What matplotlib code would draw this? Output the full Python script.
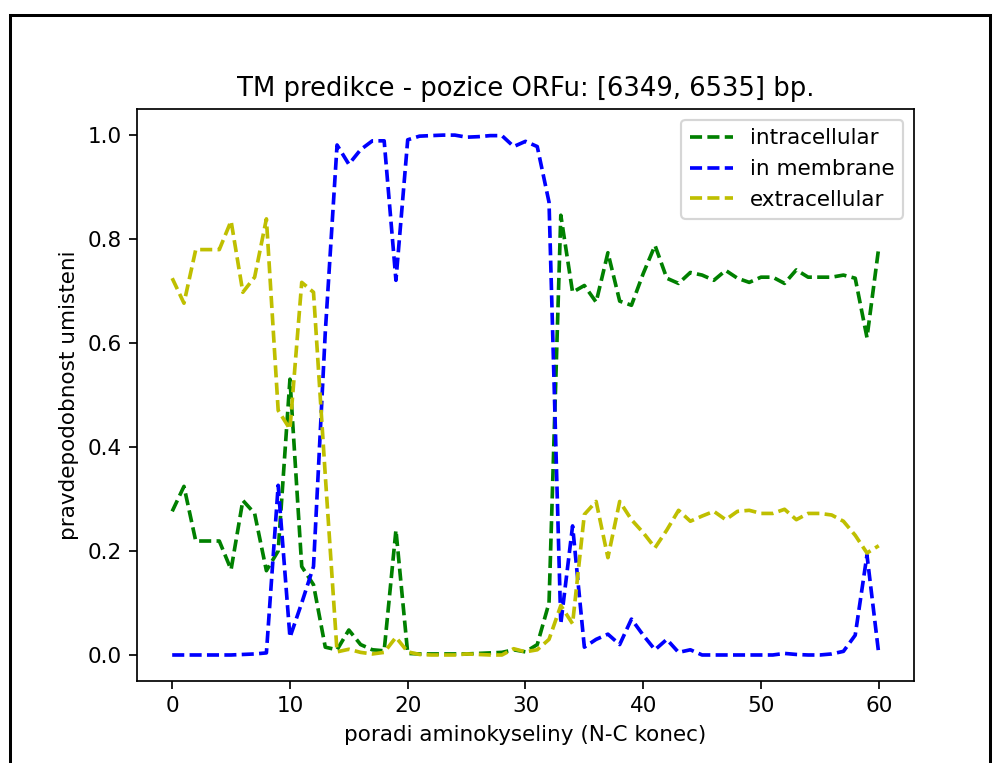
import matplotlib
matplotlib.use("Agg")
import matplotlib.pyplot as plt
from matplotlib.lines import Line2D

# --- DATA ---
positions = list(range(61))

intracellular = [0.276, 0.324, 0.219, 0.219, 0.219, 0.164, 0.297, 0.272, 0.162, 0.20,
                 0.53, 0.17, 0.135, 0.015, 0.01, 0.048, 0.02, 0.01, 0.008, 0.24,
                 0.003, 0.002, 0.002, 0.002, 0.002, 0.002, 0.003, 0.004, 0.005, 0.01,
                 0.006, 0.02, 0.10, 0.845, 0.697, 0.71, 0.678, 0.773, 0.68, 0.672,
                 0.733, 0.787, 0.724, 0.714, 0.735, 0.73, 0.72, 0.739, 0.724, 0.716,
                 0.726, 0.726, 0.714, 0.74, 0.726, 0.726, 0.726, 0.73, 0.724, 0.61, 0.783]

in_membrane = [0.0, 0.0, 0.0, 0.0, 0.0, 0.0, 0.001, 0.002, 0.004, 0.326,
               0.034, 0.10, 0.17, 0.62, 0.98, 0.943, 0.971, 0.988, 0.988, 0.72,
               0.99, 0.997, 0.998, 0.999, 0.999, 0.995, 0.996, 0.998, 0.998, 0.977,
               0.987, 0.977, 0.87, 0.06, 0.248, 0.015, 0.03, 0.04, 0.02, 0.069,
               0.038, 0.01, 0.03, 0.005, 0.01, 0.0, 0.0, 0.0, 0.0, 0.0,
               0.0, 0.0, 0.003, 0.001, 0.0, 0.0, 0.002, 0.007, 0.038, 0.192, 0.002]

extracellular = [0.724, 0.676, 0.779, 0.779, 0.779, 0.834, 0.697, 0.726, 0.838, 0.47,
                 0.434, 0.716, 0.697, 0.345, 0.006, 0.011, 0.005, 0.002, 0.005, 0.034,
                 0.006, 0.001, 0.0, 0.0, 0.0, 0.002, 0.001, 0.0, 0.0, 0.012,
                 0.006, 0.01, 0.03, 0.095, 0.06, 0.27, 0.295, 0.187, 0.295, 0.26,
                 0.235, 0.206, 0.24, 0.278, 0.257, 0.267, 0.276, 0.26, 0.276, 0.278,
                 0.272, 0.272, 0.28, 0.26, 0.272, 0.272, 0.269, 0.257, 0.23, 0.196, 0.21]

DPI = 155
fig = plt.figure(figsize=(999 / DPI, 763 / DPI), dpi=DPI)
ax = fig.add_axes([0.137, 0.1075, 0.778, 0.7495])

LW = 1.7
DASH = (3.3, 1.45)
ax.plot(positions, intracellular, 'g--', lw=LW, dashes=DASH, label='intracellular')
ax.plot(positions, in_membrane, 'b--', lw=LW, dashes=DASH, label='in membrane')
ax.plot(positions, extracellular, 'y--', lw=LW, dashes=DASH, label='extracellular')

ax.set_title('TM predikce - pozice ORFu: [6349, 6535] bp.')
ax.set_xlabel('poradi aminokyseliny (N-C konec)')
ax.set_ylabel('pravdepodobnost umisteni')
ax.legend(loc='upper right')

# ramecek screenshotu
for xs, ys in [((0.010, 0.991), (0.980, 0.980)),
               ((0.010, 0.010), (0.0, 0.980)),
               ((0.991, 0.991), (0.0, 0.980))]:
    fig.add_artist(Line2D(xs, ys, color='black', linewidth=1.4, transform=fig.transFigure))

fig.savefig('out.png', dpi=DPI)
